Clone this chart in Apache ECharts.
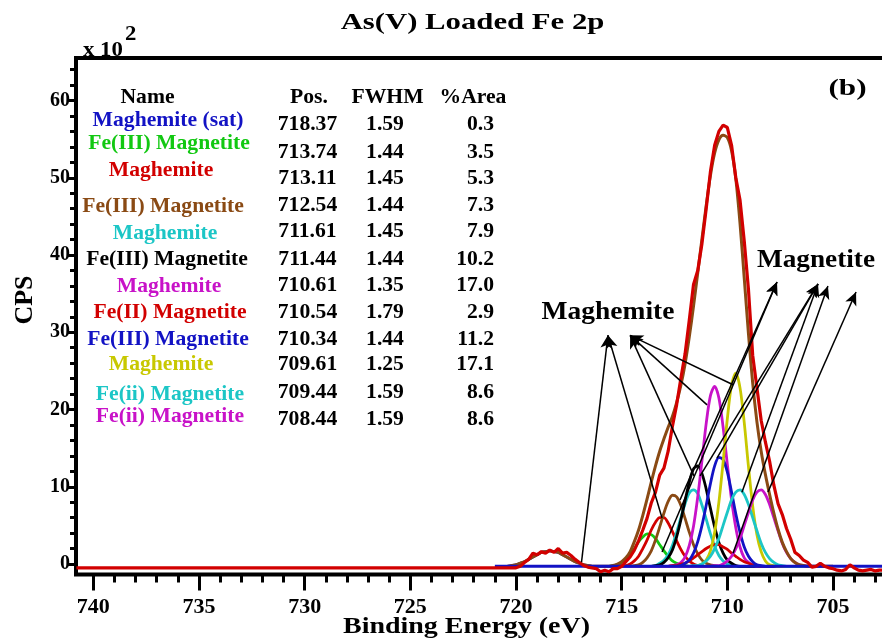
<!DOCTYPE html>
<html><head><meta charset="utf-8">
<script src="https://cdn.jsdelivr.net/npm/echarts@6/dist/echarts.min.js"></script>
<style>html,body{margin:0;padding:0;background:#fff}#c{width:882px;height:641px}</style>
</head><body><div id="c"></div>
<script>
// ---------------- DATA ----------------
const xTickLabels = [705, 710, 715, 720, 725, 730, 735, 740];
const yTickLabels = [0, 10, 20, 30, 40, 50, 60];

// table
const tableNames = ['Maghemite (sat)','Fe(III) Magnetite','Maghemite','Fe(III) Magnetite','Maghemite','Fe(III) Magnetite','Maghemite','Fe(II) Magnetite','Fe(III) Magnetite','Maghemite','Fe(ii) Magnetite','Fe(ii) Magnetite'];
const tablePos  = ['718.37','713.74','713.11','712.54','711.61','711.44','710.61','710.54','710.34','709.61','709.44','708.44'];
const tableFwhm = ['1.59','1.44','1.45','1.44','1.45','1.44','1.35','1.79','1.44','1.25','1.59','1.59'];
const tableArea = ['0.3','3.5','5.3','7.3','7.9','10.2','17.0','2.9','11.2','17.1','8.6','8.6'];

// satellite component (own energy grid)
const satEnergy = [720.4,720.2,720.0,719.8,719.6,719.4,719.2,719.0,718.8,718.6,718.4,718.2,718.0,717.8,717.6,717.4,717.2,717.0,716.8,716.6,716.4];
const satMaghemite = [-0.3,-0.2,-0.1,0.1,0.3,0.6,0.9,1.2,1.5,1.6,1.7,1.6,1.5,1.2,0.9,0.6,0.3,0.1,-0.1,-0.2,-0.3];

// main components energy grid
const energy = [716.0,715.8,715.6,715.4,715.2,715.0,714.8,714.6,714.4,714.2,
714.0,713.8,713.6,713.4,713.2,713.0,712.8,712.6,712.4,712.2,
712.0,711.8,711.6,711.4,711.2,711.0,710.8,710.6,710.4,710.2,
710.0,709.8,709.6,709.4,709.2,709.0,708.8,708.6,708.4,708.2,
708.0,707.8,707.6,707.4,707.2,707.0,706.8,706.6,706.4,706.2,
706.0,705.8,705.6,705.4,705.2,705.0];

const greenFe3 = [-0.3,-0.3,-0.3,-0.2,-0.1,0.2,0.6,1.3,2.0,2.9,
3.5,3.9,3.8,3.3,2.5,1.7,1.0,0.4,0.1,-0.1,
-0.2,-0.3,-0.3,-0.3,-0.3,-0.3,-0.3,-0.3,-0.3,-0.3,
-0.3,-0.3,-0.3,-0.3,-0.3,-0.3,-0.3,-0.3,-0.3,-0.3,
-0.3,-0.3,-0.3,-0.3,-0.3,-0.3,-0.3,-0.3,-0.3,-0.3,
-0.3,-0.3,-0.3,-0.3,-0.3,-0.3];
const redMaghemite = [-0.3,-0.3,-0.3,-0.3,-0.3,-0.2,-0.2,0.0,0.4,1.0,
2.0,3.1,4.4,5.4,6.0,6.0,5.3,4.2,3.0,1.9,
1.0,0.4,0.0,-0.2,-0.3,-0.3,-0.3,-0.3,-0.3,-0.3,
-0.3,-0.3,-0.3,-0.3,-0.3,-0.3,-0.3,-0.3,-0.3,-0.3,
-0.3,-0.3,-0.3,-0.3,-0.3,-0.3,-0.3,-0.3,-0.3,-0.3,
-0.3,-0.3,-0.3,-0.3,-0.3,-0.3];
const brownFe3 = [-0.3,-0.3,-0.3,-0.3,-0.3,-0.3,-0.3,-0.3,-0.2,-0.1,
0.2,0.8,1.7,3.1,4.8,6.6,8.1,8.9,8.7,7.6,
5.9,4.1,2.5,1.3,0.5,0.1,-0.1,-0.2,-0.3,-0.3,
-0.3,-0.3,-0.3,-0.3,-0.3,-0.3,-0.3,-0.3,-0.3,-0.3,
-0.3,-0.3,-0.3,-0.3,-0.3,-0.3,-0.3,-0.3,-0.3,-0.3,
-0.3,-0.3,-0.3,-0.3,-0.3,-0.3];
const cyanMaghemite = [-0.3,-0.3,-0.3,-0.3,-0.3,-0.3,-0.3,-0.3,-0.3,-0.3,
-0.3,-0.3,-0.3,-0.2,0.1,0.5,1.2,2.4,4.1,6.0,
7.8,9.2,9.6,9.1,7.6,5.8,3.9,2.3,1.1,0.4,
0.0,-0.2,-0.3,-0.3,-0.3,-0.3,-0.3,-0.3,-0.3,-0.3,
-0.3,-0.3,-0.3,-0.3,-0.3,-0.3,-0.3,-0.3,-0.3,-0.3,
-0.3,-0.3,-0.3,-0.3,-0.3,-0.3];
const blackFe3 = [-0.3,-0.3,-0.3,-0.3,-0.3,-0.3,-0.3,-0.3,-0.3,-0.3,
-0.3,-0.3,-0.3,-0.2,-0.1,0.2,0.8,1.8,3.5,5.7,
8.2,10.6,12.3,12.7,11.7,9.7,7.2,4.8,2.8,1.4,
0.5,0.1,-0.2,-0.3,-0.3,-0.3,-0.3,-0.3,-0.3,-0.3,
-0.3,-0.3,-0.3,-0.3,-0.3,-0.3,-0.3,-0.3,-0.3,-0.3,
-0.3,-0.3,-0.3,-0.3,-0.3,-0.3];
const magentaMaghemite = [-0.3,-0.3,-0.3,-0.3,-0.3,-0.3,-0.3,-0.3,-0.3,-0.3,
-0.3,-0.3,-0.3,-0.3,-0.3,-0.3,-0.3,-0.2,-0.1,0.2,
0.9,2.4,4.9,8.7,13.4,18.2,21.8,23.0,21.5,17.7,
12.9,8.3,4.7,2.2,0.8,0.2,-0.1,-0.3,-0.3,-0.3,
-0.3,-0.3,-0.3,-0.3,-0.3,-0.3,-0.3,-0.3,-0.3,-0.3,
-0.3,-0.3,-0.3,-0.3,-0.3,-0.3];
const redFe2 = [-0.3,-0.3,-0.3,-0.3,-0.3,-0.3,-0.3,-0.3,-0.3,-0.3,
-0.3,-0.3,-0.3,-0.3,-0.3,-0.3,-0.3,-0.2,-0.2,0.0,
0.1,0.4,0.8,1.2,1.6,2.0,2.3,2.5,2.5,2.2,
1.9,1.4,1.0,0.6,0.3,0.1,-0.1,-0.2,-0.3,-0.3,
-0.3,-0.3,-0.3,-0.3,-0.3,-0.3,-0.3,-0.3,-0.3,-0.3,
-0.3,-0.3,-0.3,-0.3,-0.3,-0.3];
const blueFe3 = [-0.3,-0.3,-0.3,-0.3,-0.3,-0.3,-0.3,-0.3,-0.3,-0.3,
-0.3,-0.3,-0.3,-0.3,-0.3,-0.3,-0.3,-0.3,-0.3,-0.2,
0.1,0.5,1.4,2.9,5.0,7.6,10.4,12.7,13.8,13.5,
11.9,9.3,6.5,4.1,2.2,1.0,0.3,-0.1,-0.2,-0.3,
-0.3,-0.3,-0.3,-0.3,-0.3,-0.3,-0.3,-0.3,-0.3,-0.3,
-0.3,-0.3,-0.3,-0.3,-0.3,-0.3];
const yellowMaghemite = [-0.3,-0.3,-0.3,-0.3,-0.3,-0.3,-0.3,-0.3,-0.3,-0.3,
-0.3,-0.3,-0.3,-0.3,-0.3,-0.3,-0.3,-0.3,-0.3,-0.3,
-0.3,-0.3,-0.3,-0.2,0.0,0.5,1.7,4.1,8.0,13.2,
18.8,23.2,24.7,22.8,18.3,12.6,7.5,3.8,1.6,0.4,
-0.1,-0.2,-0.3,-0.3,-0.3,-0.3,-0.3,-0.3,-0.3,-0.3,
-0.3,-0.3,-0.3,-0.3,-0.3,-0.3];
const cyanFe2 = [-0.3,-0.3,-0.3,-0.3,-0.3,-0.3,-0.3,-0.3,-0.3,-0.3,
-0.3,-0.3,-0.3,-0.3,-0.3,-0.3,-0.3,-0.3,-0.3,-0.3,
-0.3,-0.3,-0.2,-0.2,0.0,0.4,1.0,2.0,3.3,5.0,
6.7,8.3,9.3,9.6,9.0,7.7,6.0,4.3,2.7,1.5,
0.7,0.2,-0.1,-0.2,-0.3,-0.3,-0.3,-0.3,-0.3,-0.3,
-0.3,-0.3,-0.3,-0.3,-0.3,-0.3];
const magentaFe2 = [-0.3,-0.3,-0.3,-0.3,-0.3,-0.3,-0.3,-0.3,-0.3,-0.3,
-0.3,-0.3,-0.3,-0.3,-0.3,-0.3,-0.3,-0.3,-0.3,-0.3,
-0.3,-0.3,-0.3,-0.3,-0.3,-0.3,-0.3,-0.2,-0.2,0.0,
0.4,1.0,2.0,3.3,5.0,6.7,8.3,9.3,9.6,9.0,
7.7,6.0,4.3,2.7,1.5,0.7,0.2,-0.1,-0.2,-0.3,
-0.3,-0.3,-0.3,-0.3,-0.3,-0.3];
// fitted envelope on the same grid
const envelope = [-0.3,-0.3,-0.3,-0.2,0.0,0.3,0.8,1.6,2.9,4.4,
6.3,8.4,10.6,12.7,14.6,16.2,17.7,19.1,20.9,23.1,
25.9,29.4,33.4,37.7,42.1,46.4,50.3,53.2,54.9,55.5,
55.2,53.5,49.9,44.1,37.0,29.8,23.4,18.4,14.6,11.6,
9.0,6.6,4.5,2.8,1.6,0.7,0.2,-0.1,-0.2,-0.3,
-0.3,-0.3,-0.3,-0.3,-0.3,-0.3];

// raw spectrum
const rawEnergy = [740.8,721.0,720.8,720.6,720.4,720.2,720.0,719.8,719.6,719.4,
719.2,719.0,718.8,718.6,718.4,718.2,718.0,717.8,717.6,717.4,
717.2,717.0,716.8,716.6,716.4,716.2,716.0,715.8,715.6,715.4,
715.2,715.0,714.8,714.6,714.4,714.2,714.0,713.8,713.6,713.4,
713.2,713.0,712.8,712.6,712.4,712.2,712.0,711.8,711.6,711.4,
711.2,711.0,710.8,710.6,710.4,710.2,710.0,709.8,709.6,709.4,
709.2,709.0,708.8,708.6,708.4,708.2,708.0,707.8,707.6,707.4,
707.2,707.0,706.8,706.6,706.4,706.2,706.0,705.8,705.6,705.4,
705.2,705.0,704.8,704.6,704.4,704.2,704.0,703.8,703.6,703.4,
703.2,703.0,702.8,702.6];
const rawCounts = [-0.5,-0.5,-0.5,-0.5,-0.5,-0.5,-0.5,-0.3,0.2,0.6,
1.4,1.2,1.6,1.4,1.8,1.5,2.0,1.4,1.5,1.1,
0.6,0.2,-0.2,-0.4,-0.5,-0.6,-1.0,-0.8,-1.0,-0.6,
-0.6,-0.3,0.3,0.9,1.8,3.0,4.4,5.9,7.9,9.3,
11.5,12.4,14.6,17.8,20.6,24.0,27.2,31.6,36.2,38.0,
41.5,46.0,50.8,54.2,56.0,56.8,56.5,54.2,50.0,47.1,
41.8,35.5,27.0,22.8,18.6,15.8,13.3,10.2,7.8,6.4,
4.6,3.2,1.5,1.1,0.5,0.2,-0.4,-0.3,0.1,-0.3,
-0.5,-0.6,-0.8,-0.9,-0.7,-0.1,-0.5,-0.8,-0.9,-0.8,
-0.7,-0.9,-0.8,-0.8];
const baselineLevel = -0.3;
const baselineStart = 721.0;

// annotation arrows: [tailEnergy, tailCPS, headIndex]
const maghemiteHeads = [[715.65, 29.6], [714.6, 29.6]];
const maghemiteArrows = [[716.9, 0.25, 0], [713.09, 5.95, 0], [711.58, 11.4, 1], [710.96, 20.6, 1], [709.73, 23.2, 1]];
const magnetiteHeads = [[707.65, 36.5], [705.71, 36.25], [705.24, 36.0], [703.91, 35.2]];
const magnetiteArrows = [[713.09, 1.55, 0], [712.24, 8.3, 0], [711.29, 11.4, 1], [710.49, 13.7, 1], [709.31, 9.3, 1], [709.73, 1.4, 2], [708.08, 9.3, 3]];

// ---------------- STYLE / LAYOUT ----------------
const C = {blue:'#1212c4', green:'#12c812', red:'#d20000', brown:'#8a4a14', cyan:'#1cc6c6', black:'#000000', magenta:'#c812c8', yellow:'#c8c800'};
const tableColors = [C.blue, C.green, C.red, C.brown, C.cyan, C.black, C.magenta, C.red, C.blue, C.yellow, C.cyan, C.magenta];
const nameX = [168, 169, 161, 163, 165, 167, 169, 170, 168, 161, 170, 170];
const nameY = [121, 144, 171, 206.5, 234, 260, 286.5, 313, 340, 365, 395, 416.5];
const valY  = [125, 152.5, 179, 206, 232, 260, 286, 313, 340, 365, 393, 420];
const FF = '"Liberation Serif", "Times New Roman", serif';

function txt(text, x, y, size, o) {
  o = o || {};
  const al = o.align || 'center', va = o.va || 'middle';
  return {type:'text', x:x, y:y, scaleX:o.sx || 1, rotation:o.rot || 0, silent:true, z:100,
    style:{text:text, fill:o.color || '#000', font:'bold ' + size + 'px ' + FF,
      align:al, verticalAlign:va, textAlign:al, textVerticalAlign:va}};
}

const graphics = [];
graphics.push(txt('As(V) Loaded Fe 2p', 472.5, 23, 24, {sx:1.28}));
graphics.push(txt('(b)', 847.5, 89, 24, {sx:1.3}));
graphics.push(txt('Binding Energy (eV)', 466.5, 627, 24, {sx:1.165}));
graphics.push(txt('CPS', 25, 300, 26, {rot:Math.PI/2}));
graphics.push(txt('x 10', 83, 51, 20, {align:'left', sx:1.14}));
graphics.push(txt('2', 125, 35, 20, {align:'left', sx:1.14}));
graphics.push(txt('Maghemite', 608, 312.5, 25, {sx:1.1}));
graphics.push(txt('Magnetite', 816, 261, 25, {sx:1.09}));
graphics.push(txt('Name', 147.5, 97.5, 21, {sx:1.03}));
graphics.push(txt('Pos.', 309, 97.5, 21, {sx:1.03}));
graphics.push(txt('FWHM', 387.5, 97.5, 21, {sx:1.03}));
graphics.push(txt('%Area', 473, 97.5, 21, {sx:1.03}));
for (let i = 0; i < tableNames.length; i++) {
  graphics.push(txt(tableNames[i], nameX[i], nameY[i], 21, {sx:1.03, color:tableColors[i]}));
  graphics.push(txt(tablePos[i], 307.5, valY[i], 21, {sx:1.03}));
  graphics.push(txt(tableFwhm[i], 385, valY[i], 21, {sx:1.03}));
  graphics.push(txt(tableArea[i], 494, valY[i], 21, {sx:1.03, align:'right'}));
}

const components = [
  [greenFe3, C.green], [redMaghemite, C.red], [brownFe3, C.brown], [cyanMaghemite, C.cyan],
  [blackFe3, C.black], [magentaMaghemite, C.magenta], [redFe2, C.red], [blueFe3, C.blue],
  [yellowMaghemite, C.yellow], [cyanFe2, C.cyan], [magentaFe2, C.magenta]
];

const X0 = 740.82, X1 = 702.54, Y0 = -1.36, Y1 = 65.5;

const series = [];
function lineSeries(data, color, width, smooth) {
  return {type:'line', xAxisIndex:0, yAxisIndex:0, data:data, showSymbol:false, symbol:'none',
    smooth:smooth, silent:true, animation:false, lineStyle:{color:color, width:width}, z:2};
}
series.push(lineSeries(satEnergy.map((e, i) => [e, satMaghemite[i]]), C.blue, 2.8, 0.3));
components.forEach(c => series.push(lineSeries(energy.map((e, i) => [e, c[0][i]]), c[1], 2.8, 0.3)));
series.push(lineSeries(satEnergy.map((e, i) => [e, satMaghemite[i]]).concat(energy.map((e, i) => [e, envelope[i]])), C.brown, 3, 0.3));
series.push(lineSeries([[baselineStart, baselineLevel], [X1, baselineLevel]], C.blue, 3, false));
const raw = lineSeries(rawEnergy.map((e, i) => [e, rawCounts[i]]), C.red, 3.2, false);
const mlData = [];
maghemiteArrows.forEach(a => { const h = maghemiteHeads[a[2]]; mlData.push([{coord:[a[0], a[1]]}, {coord:[h[0], h[1]]}]); });
magnetiteArrows.forEach(a => { const h = magnetiteHeads[a[2]]; mlData.push([{coord:[a[0], a[1]]}, {coord:[h[0], h[1]]}]); });
raw.markLine = {silent:true, animation:false, symbol:['none', 'arrow'], symbolSize:[9, 13], label:{show:false},
  lineStyle:{color:'#000', width:1.5, type:'solid'}, emphasis:{disabled:true}, data:mlData};
series.push(raw);

const lbl = {fontFamily:FF, fontWeight:'bold', color:'#000'};
const option = {
  animation:false,
  backgroundColor:'#fff',
  graphic:{elements:graphics},
  grid:[
    {left:76, right:-3, top:58, bottom:66.5, show:true, borderColor:'#000', borderWidth:4, backgroundColor:'transparent', containLabel:false, outerBoundsMode:'none'},
    {left:93.3, right:49, top:573.5, height:1, containLabel:false, outerBoundsMode:'none'},
    {left:93.3, right:6.74, top:573.5, height:1, containLabel:false, outerBoundsMode:'none'},
    {left:76, width:1, top:100.5, height:463.5, containLabel:false, outerBoundsMode:'none'},
    {left:76, width:1, top:69.6, height:494.4, containLabel:false, outerBoundsMode:'none'}
  ],
  xAxis:[
    {gridIndex:0, type:'value', min:X1, max:X0, inverse:true, axisLine:{show:false}, axisTick:{show:false}, axisLabel:{show:false}, splitLine:{show:false}},
    {gridIndex:1, type:'value', min:xTickLabels[0], max:xTickLabels[xTickLabels.length-1], interval:5, inverse:true,
      axisLine:{show:false}, splitLine:{show:false},
      axisTick:{show:true, inside:false, length:16, lineStyle:{color:'#000', width:3}},
      axisLabel:Object.assign({fontSize:22, margin:22}, lbl)},
    {gridIndex:2, type:'value', min:703, max:740, interval:1, inverse:true,
      axisLine:{show:false}, splitLine:{show:false}, axisLabel:{show:false},
      axisTick:{show:true, inside:false, length:8, lineStyle:{color:'#000', width:3}}},
    {gridIndex:3, type:'value', show:false},
    {gridIndex:4, type:'value', show:false}
  ],
  yAxis:[
    {gridIndex:0, type:'value', min:Y0, max:Y1, axisLine:{show:false}, axisTick:{show:false}, axisLabel:{show:false}, splitLine:{show:false}},
    {gridIndex:1, type:'value', show:false},
    {gridIndex:2, type:'value', show:false},
    {gridIndex:3, type:'value', min:yTickLabels[0], max:yTickLabels[yTickLabels.length-1], interval:10,
      axisLine:{show:false}, splitLine:{show:false},
      axisTick:{show:true, inside:false, length:8, lineStyle:{color:'#000', width:3}},
      axisLabel:Object.assign({fontSize:20, margin:6}, lbl)},
    {gridIndex:4, type:'value', min:0, max:64, interval:2,
      axisLine:{show:false}, splitLine:{show:false}, axisLabel:{show:false},
      axisTick:{show:true, inside:false, length:6, lineStyle:{color:'#000', width:3}}}
  ],
  series:series
};
const chart = echarts.init(document.getElementById('c'), null, {renderer:'canvas'});
chart.setOption(option);
</script></body></html>
